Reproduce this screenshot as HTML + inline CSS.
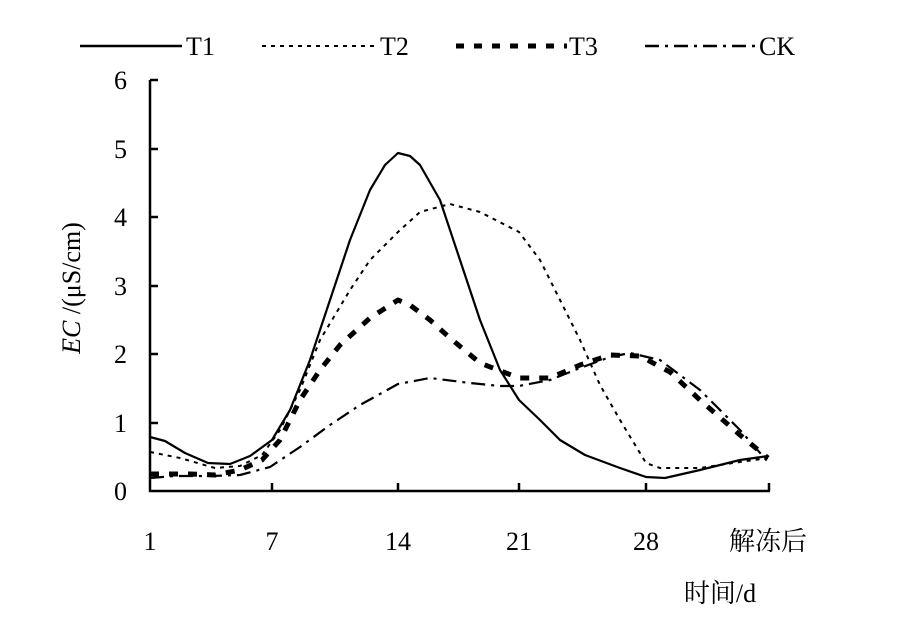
<!DOCTYPE html>
<html><head><meta charset="utf-8"><style>
body{margin:0;background:#fff;}
svg text{font-family:"Liberation Serif","Noto Serif CJK SC",serif;fill:#000;}
</style></head><body>
<svg width="898" height="635" viewBox="0 0 898 635" xmlns="http://www.w3.org/2000/svg">
<rect width="898" height="635" fill="#fff"/>
<line x1="80" y1="46" x2="182" y2="46" stroke="#000" stroke-width="2.5"/>
<text x="186" y="55" font-size="26">T1</text>
<line x1="262" y1="46" x2="375" y2="46" stroke="#000" stroke-width="2" stroke-dasharray="4,5"/>
<text x="380" y="55" font-size="26">T2</text>
<line x1="456" y1="46" x2="567" y2="46" stroke="#000" stroke-width="5" stroke-dasharray="8,10"/>
<text x="569" y="55" font-size="26">T3</text>
<line x1="645" y1="46" x2="757" y2="46" stroke="#000" stroke-width="2.5" stroke-dasharray="14,6,3,6"/>
<text x="759" y="55" font-size="26">CK</text>
<line x1="150" y1="80" x2="150" y2="492" stroke="#000" stroke-width="2.5"/>
<line x1="149" y1="491" x2="770" y2="491" stroke="#000" stroke-width="2.5"/>
<g stroke="#000" stroke-width="2.5">
<line x1="150" y1="80" x2="158" y2="80"/><line x1="150" y1="149" x2="158" y2="149"/>
<line x1="150" y1="217" x2="158" y2="217"/><line x1="150" y1="286" x2="158" y2="286"/>
<line x1="150" y1="354" x2="158" y2="354"/><line x1="150" y1="423" x2="158" y2="423"/>
<line x1="272" y1="491" x2="272" y2="483"/><line x1="398" y1="491" x2="398" y2="483"/>
<line x1="519" y1="491" x2="519" y2="483"/><line x1="646" y1="491" x2="646" y2="483"/>
<line x1="769" y1="491" x2="769" y2="483"/>
</g>
<g font-size="26" text-anchor="end">
<text x="127" y="89">6</text><text x="127" y="158">5</text><text x="127" y="226">4</text>
<text x="127" y="295">3</text><text x="127" y="363">2</text><text x="127" y="432">1</text>
<text x="127" y="500">0</text>
</g>
<g font-size="26" text-anchor="middle">
<text x="150" y="550">1</text><text x="272" y="550">7</text><text x="398" y="550">14</text>
<text x="519" y="550">21</text><text x="646" y="550">28</text><text x="768" y="550">解冻后</text>
<text x="720" y="602">时间/d</text>
</g>
<text transform="translate(80,288) rotate(-90)" font-size="26" text-anchor="middle"><tspan font-style="italic">EC</tspan> /(μS/cm)</text>
<g fill="none" stroke="#000" stroke-linejoin="round">
<polyline stroke-width="2.2" points="150,437 165,441 185,453 208,463 230,464 250,456 272,440 290,410 310,360 330,300 350,240 370,190 385,165 398,153 410,156 420,165 440,200 460,260 480,320 500,370 519,400 540,420 560,440 585,455 620,468 646,477 665,478 700,470 740,460 768,456"/>
<polyline stroke-width="2" stroke-dasharray="4,5" points="150,452 180,458 215,468 240,466 262,455 280,430 300,390 320,340 350,290 370,260 398,232 420,212 450,204 480,212 519,232 540,260 560,300 580,340 600,385 620,420 646,463 660,468 700,468 740,462 768,458"/>
<polyline stroke-width="5" stroke-dasharray="9,10" points="150,474 190,474 215,475 240,470 262,460 280,440 300,400 320,370 340,345 370,318 398,300 410,305 430,320 450,338 480,363 519,378 550,378 580,365 610,355 640,356 670,372 700,400 740,435 768,458"/>
<polyline stroke-width="2.2" stroke-dasharray="14,6,3,6" points="150,478 175,476 210,476 240,475 270,467 300,447 330,425 360,405 398,384 430,378 470,383 500,386 519,386 550,380 580,368 610,357 630,353 660,360 700,390 740,430 768,462"/>
</g>
</svg>
</body></html>
